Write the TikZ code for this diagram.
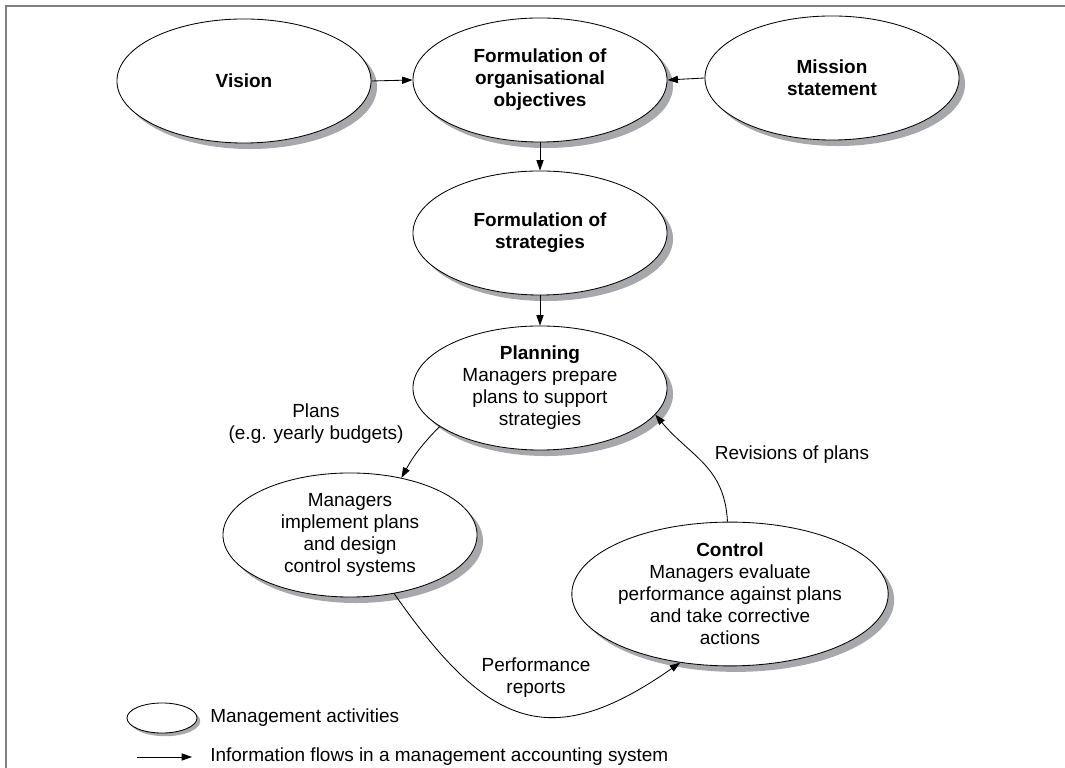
\documentclass[tikz,border=0pt]{standalone}
\usepackage{fontspec}
\setmainfont{Liberation Sans}
\definecolor{shadowgrey}{HTML}{A7A8AB}
\definecolor{framegrey}{HTML}{808080}
\usepackage{tikz}
\usetikzlibrary{arrows.meta, shapes.geometric, shadows, positioning}
\newcommand{\infoflow}[2]
{
	\draw[flow] (#1) -- (#2)
}

\begin{document}
\begin{tikzpicture}[x=0.025cm, y=0.025cm,
every node/.append style={font=\fontsize{13.5}{15.6}\selectfont, align=center},
activity/.style={ellipse, draw, line width=0.6pt, fill=white, inner sep=0pt,
  minimum width=6.35cm, minimum height=3.1cm,
  drop shadow={shadow xshift=0.15cm, shadow yshift=-0.15cm, fill=shadowgrey, opacity=1}},
keybox/.style={ellipse, draw, line width=0.6pt, fill=white, inner sep=0pt,
  minimum width=1.75cm, minimum height=0.75cm,
  drop shadow={shadow xshift=0.08cm, shadow yshift=-0.08cm, fill=shadowgrey, opacity=1}},
flow/.style={line width=0.6pt, -{Triangle[length=2.6mm, width=1.8mm]}}]

\useasboundingbox (0,0) rectangle (1065,768);
\draw[framegrey, line width=2.1pt] (6,0) -- (6,762) -- (1065,762);

\node[activity, font=\fontsize{13.5}{15.6}\selectfont\bfseries] at (244, 687) (vision){Vision};
\node[activity, font=\fontsize{13.5}{15.6}\selectfont\bfseries] at (540, 688) (objectives){Formulation of\\organisational\\objectives};
\node[activity, font=\fontsize{13.5}{15.6}\selectfont\bfseries] at (832, 690) (mission){Mission\\statement};
\node[activity, font=\fontsize{13.5}{15.6}\selectfont\bfseries] at (540, 535) (strategies){Formulation of\\strategies};

\node[activity] at (540, 380) (planning){\textbf{Planning}\\Managers prepare\\plans to support\\strategies};
\node[activity] at (350, 233) (implement){Managers\\implement plans\\and design\\control systems};
\node[activity] at (730, 174) (control){\textbf{Control}\\Managers evaluate\\performance against plans\\and take corrective\\actions};

\node at (316, 344) (planslbl){Plans\\(e.g. yearly budgets)};
\node at (792, 313) (revisionslbl){Revisions of plans};
\node at (536, 90) (reportslbl){Performance\\reports};

\infoflow{vision.east}{objectives.west};
\infoflow{mission.west}{objectives.east};
\infoflow{objectives}{strategies};
\infoflow{strategies}{planning};
\draw[flow] (planning.201) to[bend right=8] (implement.48);
\draw[flow] (control.92) to[out=93, in=-50, looseness=1.1] (planning.-13);
\draw[flow] (implement.-53) to[out=-55, in=215, looseness=1.4] (control.234);

\node[keybox] at (162, 50) (keyellipse){};
\node[right, inner sep=0pt] at (210, 50) (keyactivity){Management activities};
\coordinate (keyfrom) at (137, 11);
\coordinate (keyto) at (192, 11);
\infoflow{keyfrom}{keyto};
\node[right, inner sep=0pt] at (210, 11) (keyflow){Information flows in a management accounting system};
\end{tikzpicture}
\end{document}
